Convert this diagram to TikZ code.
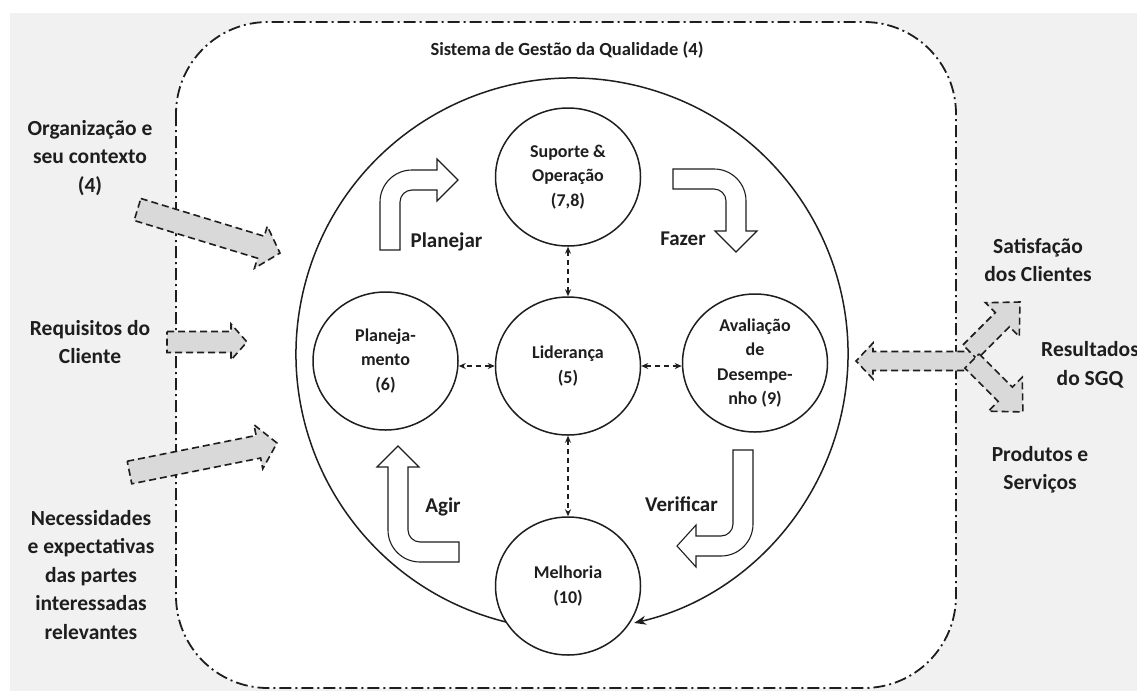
\documentclass[tikz,border=0pt]{standalone}
\usepackage{fontspec}
\setmainfont{Carlito}
\usetikzlibrary{shapes.geometric,arrows.meta}
\definecolor{bggray}{HTML}{F1F1F1}
\definecolor{arrgray}{HTML}{D9D9D9}
\definecolor{ink}{HTML}{1E1E1E}
\newcommand{\gblock}[7]{%
  \begin{scope}[shift={(#1,#2)},rotate=#3]
    \draw[grayarrow] (0,{-#5/2}) -- ({#4-#7},{-#5/2}) -- ({#4-#7},{-#6/2}) -- (#4,0)
      -- ({#4-#7},{#6/2}) -- ({#4-#7},{#5/2}) -- (0,{#5/2}) -- cycle;
  \end{scope}}
\begin{document}
\begin{tikzpicture}[x=1pt,y=-1pt,
  proc/.style={ellipse, draw=ink, line width=1.5pt, fill=white, minimum width=145pt,
    minimum height=138pt, inner sep=0pt, align=center,
    font=\fontsize{18}{24.5}\selectfont\bfseries, text=ink},
  lbl/.style={align=center, font=\fontsize{21.5}{28.5}\selectfont\bfseries, text=ink, inner sep=0pt},
  pdca/.style={font=\fontsize{21}{25}\selectfont\bfseries, text=ink, inner sep=0pt},
  titlelbl/.style={font=\fontsize{18.5}{22}\selectfont\bfseries, text=ink, inner sep=0pt},
  hollow/.style={draw=ink, line width=1.1pt, fill=white, line join=miter},
  grayarrow/.style={draw=ink, fill=arrgray, line width=1.6pt, dash pattern=on 7pt off 4pt},
  link/.style={draw=ink, line width=1.3pt, dash pattern=on 5pt off 4pt,
    {Stealth[length=7pt,width=6pt]}-{Stealth[length=7pt,width=6pt]}},
  cyclearrow/.style={draw=ink, line width=1.5pt, -{Stealth[length=12pt,width=9pt]}},
  frame/.style={draw=ink, line width=1.8pt, dash pattern=on 12pt off 4pt on 2pt off 4pt,
    fill=white, rounded corners=92pt}]
\useasboundingbox (0,0) rectangle (1137,691);
\fill[bggray] (10,13) rectangle (1137,691);
\path[frame] (176,22) rectangle (956,688);
\node[titlelbl] (title) at (567,50) {Sistema de Gestão da Qualidade (4)};

% big cycle arc
\coordinate (bc) at (572,354);
\draw[cyclearrow] (bc) ++(103.8:276) arc[start angle=103.8, end angle=437, radius=276];

% hollow PDCA arrows
\draw[hollow] (380,250) -- (380,202) .. controls (380,184.3) and (394.3,170) .. (412,170)
  -- (437,170) -- (437,159) -- (458,180) -- (437,201) -- (437,190) -- (412,190)
  .. controls (405.4,190) and (400,195.4) .. (400,202) -- (400,250) -- cycle;
\draw[hollow] (673,169) -- (714,169) .. controls (731.7,169) and (746,183.3) .. (746,201)
  -- (746,231) -- (757,231) -- (736,252) -- (715,231) -- (726,231) -- (726,201)
  .. controls (726,194.4) and (720.6,189) .. (714,189) -- (673,189) -- cycle;
\draw[hollow] (733,450) -- (753,450) -- (753,524) .. controls (753,541.7) and (738.7,556) .. (721,556)
  -- (696,556) -- (696,567) -- (677,546) -- (696,525) -- (696,536) -- (721,536)
  .. controls (727.6,536) and (733,530.6) .. (733,524) -- cycle;
\draw[hollow] (459,542) -- (459,562) -- (420,562) .. controls (402.3,562) and (388,547.7) .. (388,530)
  -- (388,467) -- (377,467) -- (398,446) -- (419,467) -- (408,467) -- (408,530)
  .. controls (408,536.6) and (413.4,542) .. (420,542) -- cycle;

% process circles
\node[proc] (sup) at (568,177) {Suporte \&\\Operação\\(7,8)};
\node[proc] (lid) at (568,366) {Liderança\\(5)};
\node[proc] (plan) at (385.5,361) {Planeja-\\mento\\(6)};
\node[proc] (aval) at (755,363) {Avaliação\\de\\Desempe-\\nho (9)};
\node[proc] (mel) at (568,586) {Melhoria\\(10)};

\draw[link] (sup.south) -- (lid.north);
\draw[link] (lid.south) -- (mel.north);
\draw[link] (lid.west) -- (lid.west -| plan.east);
\draw[link] (lid.east) -- (lid.east -| aval.west);

% PDCA labels
\node[pdca] (lplan) at (446.5,242) {Planejar};
\node[pdca] (lfaz) at (683,239) {Fazer};
\node[pdca] (lver) at (681.5,504) {Verificar};
\node[pdca] (lagir) at (443,507) {Agir};

% outside labels
\node[lbl] (org) at (90,158) {Organização e\\seu contexto\\(4)};
\node[lbl] (req) at (90,342) {Requisitos do\\Cliente};
\node[lbl] (nec) at (91,575) {Necessidades\\e expectativas\\das partes\\interessadas\\relevantes};
\node[lbl] (sat) at (1038,260) {Satisfação\\dos Clientes};
\node[lbl] (res) at (1090,365) {Resultados\\do SGQ};
\node[lbl] (prod) at (1040,470) {Produtos e\\Serviços};

% gray dashed block arrows
\gblock{137.5}{209.5}{-17}{149}{23}{44}{20}
\gblock{167}{342}{0}{80}{21}{36}{16}
\gblock{129.5}{472.5}{11.3}{150.4}{23}{45}{19}
\gblock{975}{361}{180}{119}{19}{36}{17}
\gblock{970}{352}{45}{70.7}{20}{48}{25}
\gblock{972}{361}{-45}{72}{20}{48}{25}
\end{tikzpicture}
\end{document}
